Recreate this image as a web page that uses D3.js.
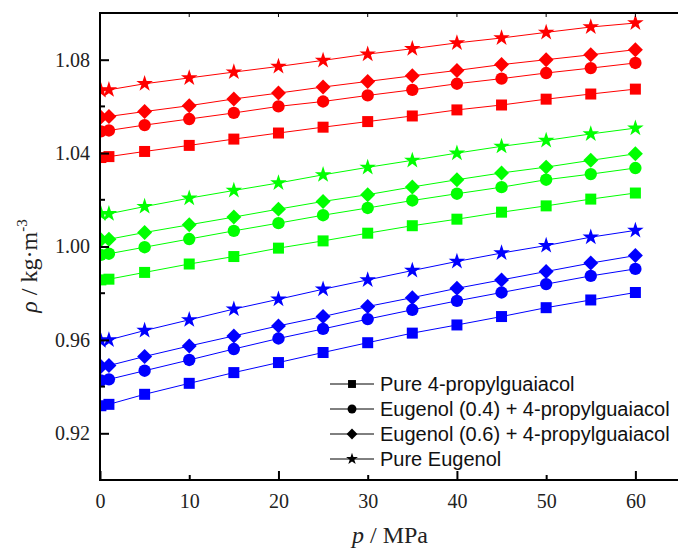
<!DOCTYPE html>
<html lang="en">
  <head>
    <meta charset="utf-8">
    <script type="text/javascript" src="https://d3js.org/d3.v7.min.js"></script>
    <style>
      body { margin: 0; background: #fff; }
    </style>
  </head>
  <body>
    <script>
      var width = 678,
        height = 549;

      // pressure in MPa
      var pressure = [0.1, 1, 5, 10, 15, 20, 25, 30, 35, 40, 45, 50, 55, 60];

      // densities, one array per curve
      var redSquare = [1.0381, 1.0385, 1.0407, 1.0433, 1.0460, 1.0486, 1.0511, 1.0535, 1.0559, 1.0585, 1.0606, 1.0631, 1.0653, 1.0674];
      var redCircle = [1.0493, 1.0497, 1.0520, 1.0546, 1.0572, 1.0600, 1.0621, 1.0647, 1.0671, 1.0697, 1.0719, 1.0743, 1.0764, 1.0786];
      var redDiamond = [1.0554, 1.0557, 1.0578, 1.0603, 1.0632, 1.0657, 1.0683, 1.0707, 1.0731, 1.0754, 1.0779, 1.0800, 1.0821, 1.0843];
      var redStar = [1.0668, 1.0671, 1.0697, 1.0722, 1.0747, 1.0771, 1.0797, 1.0824, 1.0847, 1.0872, 1.0893, 1.0917, 1.0940, 1.0957];

      var greenSquare = [0.9857, 0.9860, 0.9889, 0.9925, 0.9957, 0.9993, 1.0024, 1.0057, 1.0089, 1.0117, 1.0147, 1.0174, 1.0203, 1.0229];
      var greenCircle = [0.9964, 0.9969, 0.9997, 1.0032, 1.0067, 1.0100, 1.0134, 1.0165, 1.0197, 1.0226, 1.0254, 1.0286, 1.0310, 1.0336];
      var greenDiamond = [1.0029, 1.0031, 1.0060, 1.0093, 1.0126, 1.0160, 1.0193, 1.0222, 1.0255, 1.0286, 1.0315, 1.0340, 1.0369, 1.0397];
      var greenStar = [1.0140, 1.0140, 1.0171, 1.0207, 1.0240, 1.0272, 1.0307, 1.0339, 1.0369, 1.0400, 1.0429, 1.0454, 1.0482, 1.0507];

      var blueSquare = [0.9318, 0.9324, 0.9367, 0.9414, 0.9460, 0.9503, 0.9546, 0.9588, 0.9629, 0.9664, 0.9700, 0.9738, 0.9771, 0.9803];
      var blueCircle = [0.9426, 0.9431, 0.9468, 0.9514, 0.9561, 0.9606, 0.9647, 0.9689, 0.9729, 0.9767, 0.9803, 0.9839, 0.9874, 0.9904];
      var blueDiamond = [0.9486, 0.9490, 0.9529, 0.9574, 0.9617, 0.9660, 0.9700, 0.9743, 0.9781, 0.9821, 0.9857, 0.9893, 0.9929, 0.9961];
      var blueStar = [0.9597, 0.9600, 0.9640, 0.9686, 0.9732, 0.9774, 0.9817, 0.9857, 0.9897, 0.9936, 0.9972, 1.0004, 1.0040, 1.0069];

      var legendLabels = ["Pure 4-propylguaiacol", "Eugenol (0.4) + 4-propylguaiacol", "Eugenol (0.6) + 4-propylguaiacol", "Pure Eugenol"];
      var xTicks = [0, 10, 20, 30, 40, 50, 60];
      var yTicks = [0.92, 0.96, 1.00, 1.04, 1.08];
      var yMinor = [0.94, 0.98, 1.02, 1.06];

      var series = [
        { vals: redSquare, color: "#ff0000", shape: "square" },
        { vals: redCircle, color: "#ff0000", shape: "circle" },
        { vals: redDiamond, color: "#ff0000", shape: "diamond" },
        { vals: redStar, color: "#ff0000", shape: "star" },
        { vals: greenSquare, color: "#00ff00", shape: "square" },
        { vals: greenCircle, color: "#00ff00", shape: "circle" },
        { vals: greenDiamond, color: "#00ff00", shape: "diamond" },
        { vals: greenStar, color: "#00ff00", shape: "star" },
        { vals: blueSquare, color: "#0000ff", shape: "square" },
        { vals: blueCircle, color: "#0000ff", shape: "circle" },
        { vals: blueDiamond, color: "#0000ff", shape: "diamond" },
        { vals: blueStar, color: "#0000ff", shape: "star" }
      ];

      // plot box (window.top is reserved, so mTop etc.)
      var mLeft = 100, mRight = 680, mTop = 13, mBottom = 480;
      var serif = "Liberation Serif, Times New Roman, serif";
      var x = d3.scaleLinear().domain([0, 65]).range([mLeft, mRight]);
      var y = d3.scaleLinear().domain([0.90, 1.10]).range([mBottom, mTop]);

      var svg = d3.select("body")
        .append("svg")
        .attr("width", width)
        .attr("height", height);

      svg.append("clipPath").attr("id", "plot")
        .append("rect")
        .attr("x", mLeft).attr("y", mTop)
        .attr("width", mRight - mLeft).attr("height", mBottom - mTop);

      // symbol paths, scale factor k for legend
      function symbolPath(shape, k) {
        if (shape == "square") return d3.symbol(d3.symbolSquare, 121 * k * k)();
        if (shape == "circle") return d3.symbol(d3.symbolCircle, 120 * k * k)();
        if (shape == "diamond") return d3.symbol(d3.symbolSquare, 112 * k * k)();
        return d3.symbol(d3.symbolStar, 85 * k * k)();
      }
      function rot(shape) { return shape == "diamond" ? " rotate(45)" : ""; }

      var line = d3.line()
        .x(function (d, i) { return x(pressure[i]); })
        .y(function (d) { return y(d); });

      var plot = svg.append("g").attr("clip-path", "url(#plot)");

      series.forEach(function (s) {
        plot.append("path")
          .attr("d", line(s.vals))
          .attr("fill", "none")
          .attr("stroke", s.color)
          .attr("stroke-width", 1);
        plot.selectAll(null)
          .data(s.vals)
          .join("path")
          .attr("d", symbolPath(s.shape, 1))
          .attr("fill", s.color)
          .attr("transform", function (d, i) {
            return "translate(" + x(pressure[i]) + "," + y(d) + ")" + rot(s.shape);
          });
      });

      // x axis (bottom), ticks pointing inward
      var gx = svg.append("g")
        .attr("transform", "translate(0," + mBottom + ")")
        .call(d3.axisBottom(x).tickValues(xTicks).tickSize(0).tickPadding(14).tickFormat(d3.format("d")))
        .attr("font-family", serif)
        .attr("font-size", 20);
      gx.select(".domain").remove();
      gx.selectAll(".tick text").attr("fill", "#222");
      gx.selectAll(".tick line")
        .attr("y2", function (d) { return d % 20 == 0 ? -9 : -5; })
        .attr("stroke", "#000").attr("stroke-width", 2);

      // top frame ticks
      svg.append("g").selectAll("line")
        .data(xTicks)
        .join("line")
        .attr("x1", function (d) { return x(d); })
        .attr("x2", function (d) { return x(d); })
        .attr("y1", mTop).attr("y2", mTop + 4)
        .attr("stroke", "#000").attr("stroke-width", 1);

      // y axis
      var gy = svg.append("g")
        .attr("transform", "translate(" + mLeft + ",0)")
        .call(d3.axisLeft(y).tickValues(yTicks).tickSize(0).tickPadding(10).tickFormat(d3.format(".2f")))
        .attr("font-family", serif)
        .attr("font-size", 20);
      gy.select(".domain").remove();
      gy.selectAll(".tick text").attr("fill", "#222");
      gy.selectAll(".tick line").attr("x2", 9).attr("stroke", "#000").attr("stroke-width", 2);

      svg.append("g").selectAll("line")
        .data(yMinor)
        .join("line")
        .attr("x1", mLeft).attr("x2", mLeft + 5)
        .attr("y1", function (d) { return y(d); })
        .attr("y2", function (d) { return y(d); })
        .attr("stroke", "#000").attr("stroke-width", 2);

      // frame
      svg.append("path")
        .attr("d", "M" + (mRight + 2) + "," + mTop + "H" + mLeft + "V" + mBottom + "H" + (mRight + 2))
        .attr("fill", "none")
        .attr("stroke", "#000")
        .attr("stroke-width", 2);

      // axis titles
      var xt = svg.append("text")
        .attr("x", 390).attr("y", 543)
        .attr("text-anchor", "middle")
        .attr("font-family", serif)
        .attr("font-size", 24)
        .attr("fill", "#222");
      xt.append("tspan").attr("font-style", "italic").text("p");
      xt.append("tspan").text(" / MPa");

      var yt = svg.append("text")
        .attr("transform", "translate(37,266) rotate(-90)")
        .attr("text-anchor", "middle")
        .attr("font-family", serif)
        .attr("font-size", 24)
        .attr("fill", "#222");
      yt.append("tspan").attr("font-style", "italic").text("ρ");
      yt.append("tspan").text(" / kg·m");
      yt.append("tspan").attr("font-size", 15).attr("dy", -10).text("-3");

      // legend
      var shapes = ["square", "circle", "diamond", "star"];
      var leg = svg.append("g").attr("transform", "translate(330,384)");
      shapes.forEach(function (sh, i) {
        var g = leg.append("g").attr("transform", "translate(0," + i * 25 + ")");
        g.append("line").attr("x1", 0).attr("x2", 44).attr("y1", 0).attr("y2", 0)
          .attr("stroke", "#000").attr("stroke-width", 1);
        g.append("path").attr("d", symbolPath(sh, 0.72))
          .attr("transform", "translate(22,0)" + rot(sh))
          .attr("fill", "#000");
        g.append("text").attr("x", 50).attr("y", 0).attr("dy", "0.35em")
          .attr("font-family", "Liberation Sans, Arial, sans-serif")
          .attr("font-size", 20)
          .attr("fill", "#111")
          .text(legendLabels[i]);
      });
    </script>
  </body>
</html>
